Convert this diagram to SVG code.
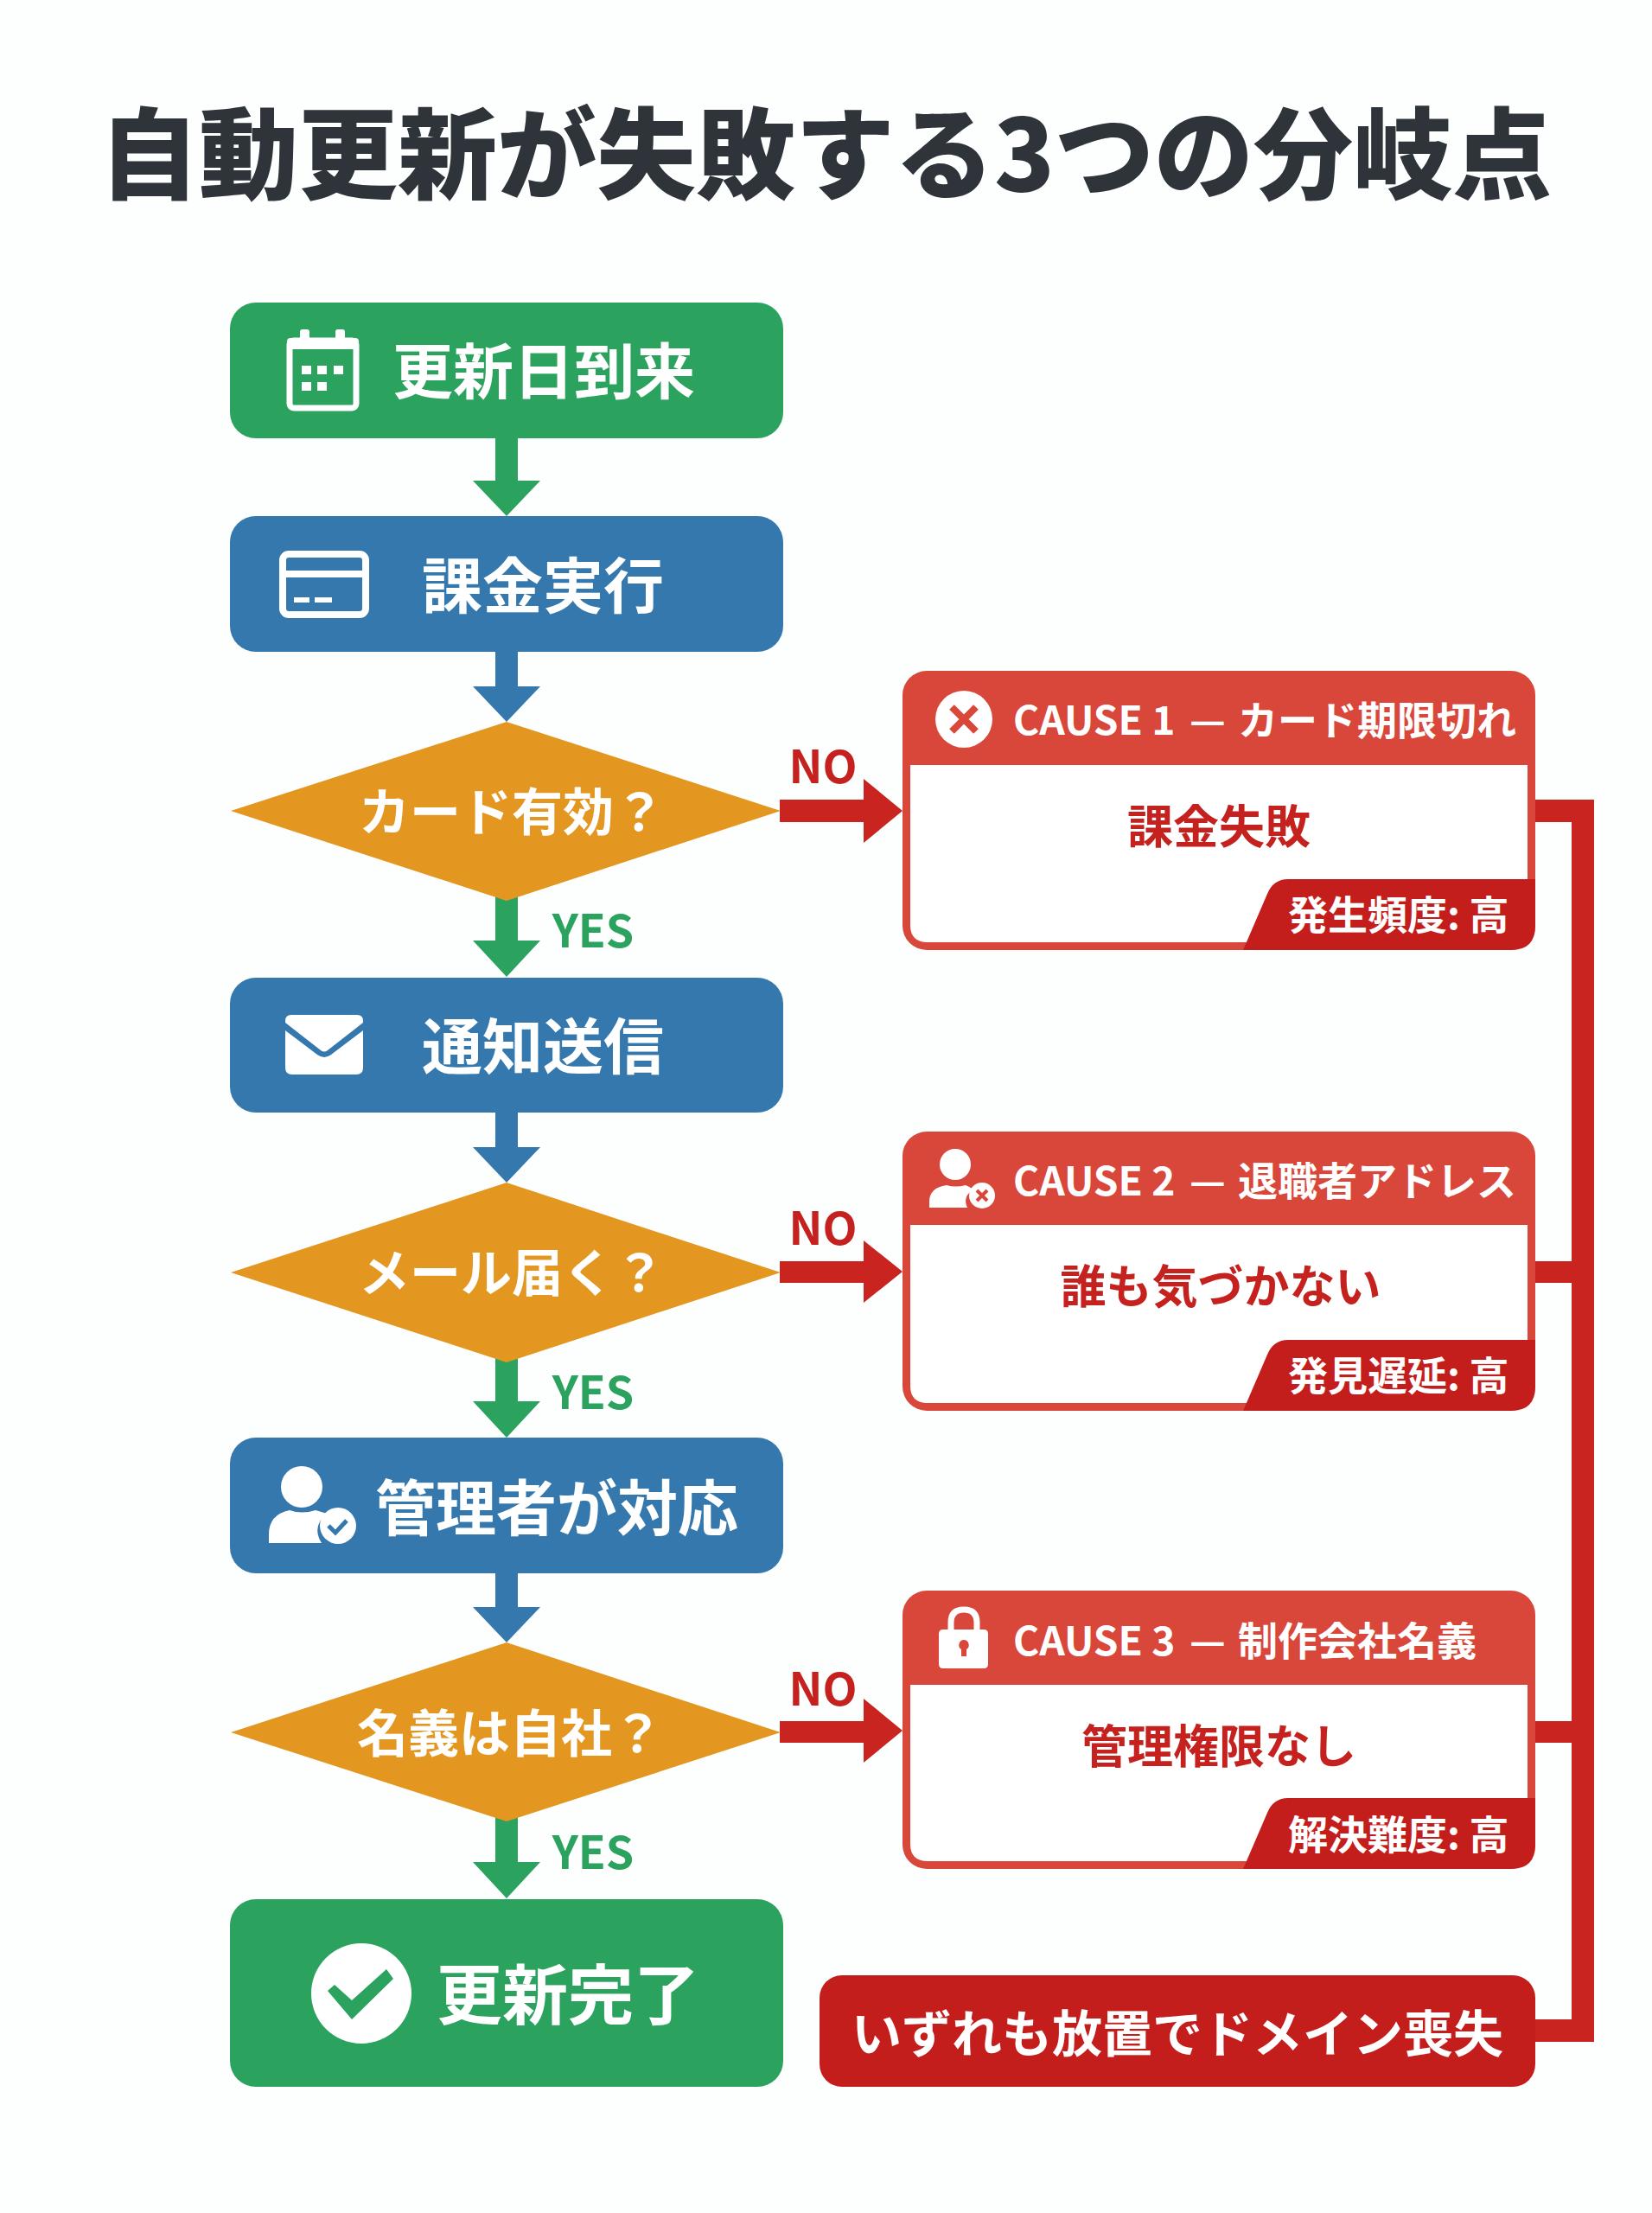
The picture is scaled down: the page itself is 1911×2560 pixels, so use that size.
<svg xmlns="http://www.w3.org/2000/svg" width="1911" height="2560" viewBox="0 0 1911 2560">
<style>
text{font-family:"Noto Sans CJK JP","Noto Sans",sans-serif;font-weight:700}
.w{fill:#fff}.m{text-anchor:middle}
.t{font-size:70px}.d{font-size:59px}
.green{fill:#2ca25f}.blue{fill:#3478ad}.orange{fill:#e49720}.red{fill:#c9241f}.hdr{fill:#d9473b}.dark{fill:#c41e1c}
.h{font-size:46px}.b{font-size:53px;fill:#c4211f}.f{font-size:46px}
.no{font-size:52px;fill:#c4211f}.yes{font-size:52px;fill:#2ca25f}
</style>
<rect width="1911" height="2560" fill="#fdfefe"/>
<text id="title" x="955" y="221" class="m" font-size="115" fill="#2e3439" style="font-weight:900">自動更新が失敗する3つの分岐点</text>

<g id="connectors">
<polygon class="green" points="573,500 599,500 599,556 625,556 586,597 547,556 573,556"/>
<polygon class="blue" points="573,750 599,750 599,794 625,794 586,835 547,794 573,794"/>
<polygon class="green" points="573,1035 599,1035 599,1088 625,1088 586,1130 547,1088 573,1088"/>
<polygon class="blue" points="573,1283 599,1283 599,1327 625,1327 586,1368 547,1327 573,1327"/>
<polygon class="green" points="573,1570 599,1570 599,1621 625,1621 586,1663 547,1621 573,1621"/>
<polygon class="blue" points="573,1816 599,1816 599,1859 625,1859 586,1900 547,1859 573,1859"/>
<polygon class="green" points="573,2100 599,2100 599,2154 625,2154 586,2196 547,2154 573,2154"/>
<polygon class="red" points="902,925 999,925 999,901 1044,938 999,975 999,951 902,951"/>
<polygon class="red" points="902,1459 999,1459 999,1435 1044,1471 999,1507 999,1484 902,1484"/>
<polygon class="red" points="902,1991 999,1991 999,1965 1044,2002 999,2039 999,2016 902,2016"/>
<path class="red" d="M1770 925H1844V2362H1770V2336H1818V2016H1770V1991H1818V1484H1770V1459H1818V951H1770Z"/>
<text class="no m" x="952" y="906">NO</text>
<text class="no m" x="952" y="1440">NO</text>
<text class="no m" x="952" y="1973">NO</text>
<text class="yes m" x="686" y="1096">YES</text>
<text class="yes m" x="686" y="1630">YES</text>
<text class="yes m" x="686" y="2162">YES</text>
</g>

<g id="node-renewal-date">
<rect class="green" x="266" y="350" width="640" height="157" rx="30"/>
<rect x="335" y="394" width="77" height="78" rx="5" fill="none" stroke="#fff" stroke-width="7"/>
<rect x="332" y="391" width="83" height="13" rx="4" class="w"/>
<rect x="347" y="381" width="11" height="16" rx="3" class="w"/><rect x="388" y="381" width="11" height="16" rx="3" class="w"/>
<path class="w" d="M349 423h11v10h-11zM367 423h11v10h-11zM386 423h11v10h-11zM349 442h11v10h-11zM367 442h11v10h-11z"/>
<text class="t w" x="454" y="456">更新日到来</text>
</g>

<g id="node-charge">
<rect class="blue" x="266" y="597" width="640" height="157" rx="30"/>
<rect x="327" y="641" width="96" height="70" rx="7" fill="none" stroke="#fff" stroke-width="8"/>
<rect x="327" y="660" width="96" height="8" class="w"/>
<path class="w" d="M340 691h18v6h-18zM364 691h20v6h-20z"/>
<text class="t w" x="488" y="704">課金実行</text>
</g>

<g id="node-card-valid">
<polygon class="orange" points="267,938 586,835 903,938 586,1042"/>
<text class="d w" x="415" y="961">カード有効？</text>
</g>

<g id="node-notify">
<rect class="blue" x="266" y="1131" width="640" height="156" rx="30"/>
<path class="w" d="M337 1174H413Q420 1174 420 1181V1183L379 1215Q375 1218 371 1215L330 1183V1181Q330 1174 337 1174Z"/>
<path class="w" d="M330 1192L367 1220Q375 1226 383 1220L420 1192V1235Q420 1243 412 1243H338Q330 1243 330 1235Z"/>
<text class="t w" x="488" y="1237">通知送信</text>
</g>

<g id="node-mail-arrives">
<polygon class="orange" points="267,1472 586,1368 903,1472 586,1576"/>
<text class="d w" x="415" y="1494">メール届く？</text>
</g>

<g id="node-admin">
<rect class="blue" x="266" y="1663" width="640" height="157" rx="30"/>
<ellipse class="w" cx="349" cy="1720" rx="24" ry="24"/>
<path class="w" d="M311 1785V1775Q311 1752 335 1747Q349 1752 365 1747Q372 1749 378 1751Q360 1766 372 1785Z"/>
<circle class="w" cx="391" cy="1765" r="21"/>
<path d="M380 1765L388 1773L401 1759" fill="none" stroke="#3478ad" stroke-width="5"/>
<text class="t w" x="434" y="1771">管理者が対応</text>
</g>

<g id="node-own-name">
<polygon class="orange" points="267,2004 586,1900 903,2004 586,2107"/>
<text class="d w" x="413" y="2027">名義は自社？</text>
</g>

<g id="node-done">
<rect class="green" x="266" y="2197" width="640" height="217" rx="30"/>
<ellipse class="w" cx="418" cy="2306" rx="58" ry="58"/>
<polygon class="green" points="379,2303 387,2296 407,2314 447,2278 455,2289 407,2336"/>
<text class="t w" x="505" y="2336" style="font-size:76px">更新完了</text>
</g>

<g id="node-cause1">
<rect class="hdr" x="1044" y="776" width="732" height="323" rx="28"/>
<path class="w" d="M1053 885H1767V1090H1073Q1053 1090 1053 1070Z"/>
<path class="dark" d="M1438 1099L1466 1034Q1473 1017 1490 1017H1776V1071Q1776 1099 1748 1099Z"/>
<circle class="w" cx="1115" cy="832" r="33"/>
<path d="M1101 818L1129 846M1129 818L1101 846" stroke="#d9473b" stroke-width="8" fill="none"/>
<text class="h w" x="1172" y="850">CAUSE 1<tspan x="1376">—</tspan><tspan x="1432">カード期限切れ</tspan></text>
<text class="b m" x="1410" y="976">課金失敗</text>
<text class="f w" x="1490" y="1075">発生頻度: 高</text>
</g>

<g id="node-cause2">
<rect class="hdr" x="1044" y="1309" width="732" height="323" rx="28"/>
<path class="w" d="M1053 1417H1767V1623H1073Q1053 1623 1053 1603Z"/>
<path class="dark" d="M1438 1632L1466 1567Q1473 1550 1490 1550H1776V1604Q1776 1632 1748 1632Z"/>
<circle class="w" cx="1105" cy="1347" r="18"/>
<path class="w" d="M1075 1397V1390Q1075 1374 1095 1371Q1105 1374 1117 1371Q1122 1373 1126 1376Q1113 1384 1119 1397Z"/>
<circle class="w" cx="1136" cy="1383" r="15"/>
<path d="M1130 1377L1142 1389M1142 1377L1130 1389" stroke="#d9473b" stroke-width="4" fill="none"/>
<text class="h w" x="1172" y="1383">CAUSE 2<tspan x="1376">—</tspan><tspan x="1432">退職者アドレス</tspan></text>
<text class="b m" x="1412" y="1508">誰も気づかない</text>
<text class="f w" x="1490" y="1608">発見遅延: 高</text>
</g>

<g id="node-cause3">
<rect class="hdr" x="1044" y="1840" width="732" height="322" rx="28"/>
<path class="w" d="M1053 1949H1767V2153H1073Q1053 2153 1053 2133Z"/>
<path class="dark" d="M1438 2162L1466 2097Q1473 2080 1490 2080H1776V2134Q1776 2162 1748 2162Z"/>
<path d="M1100 1888V1877Q1100 1862 1115 1862Q1130 1862 1130 1877V1888" fill="none" stroke="#fff" stroke-width="7"/>
<path class="w" fill-rule="evenodd" d="M1091 1885H1138Q1143 1885 1143 1890V1925Q1143 1930 1138 1930H1091Q1086 1930 1086 1925V1890Q1086 1885 1091 1885ZM1115 1897A6 6 0 0 0 1112 1908V1916H1118V1908A6 6 0 0 0 1115 1897Z"/>
<text class="h w" x="1172" y="1915">CAUSE 3<tspan x="1376">—</tspan><tspan x="1432">制作会社名義</tspan></text>
<text class="b m" x="1410" y="2040">管理権限なし</text>
<text class="f w" x="1490" y="2139">解決難度: 高</text>
</g>

<g id="node-loss">
<rect class="dark" x="948" y="2285" width="828" height="129" rx="26"/>
<text class="w" x="985" y="2374" style="font-size:58px">いずれも放置でドメイン喪失</text>
</g>
</svg>
